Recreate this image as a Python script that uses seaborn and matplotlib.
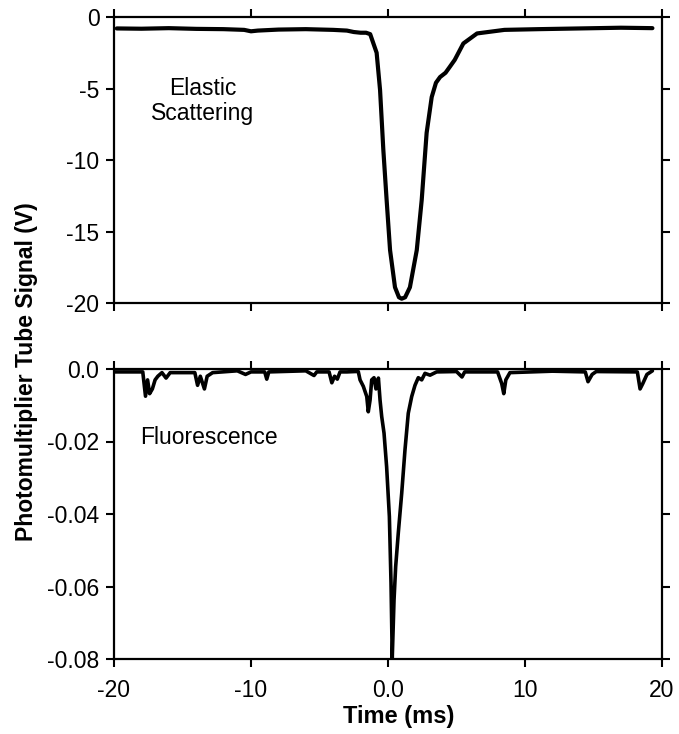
import matplotlib
matplotlib.use("Agg")
import matplotlib.pyplot as plt
import seaborn as sns
import pandas as pd

# ---------------- data ----------------
elastic_t = [-19.8, -18, -16, -14, -12, -10.5, -10, -9.5, -8, -6, -4, -3, -2.5, -2,
             -1.6, -1.3, -0.83, -0.58, -0.34, -0.1, 0.15, 0.51, 0.8, 1.0, 1.25, 1.6,
             2.1, 2.46, 2.82, 3.19, 3.5, 3.8, 4.2, 4.5, 4.87, 5.5, 6.5, 8.5, 11, 14,
             17, 19.3]
elastic_v = [-0.8, -0.82, -0.78, -0.83, -0.85, -0.9, -1.0, -0.95, -0.88, -0.85, -0.9,
             -0.95, -1.05, -1.1, -1.1, -1.2, -2.5, -5.1, -9.3, -12.8, -16.3, -18.9,
             -19.6, -19.7, -19.6, -18.9, -16.3, -12.8, -8.1, -5.6, -4.6, -4.2, -3.9,
             -3.5, -3.0, -1.85, -1.15, -0.9, -0.85, -0.8, -0.75, -0.78]

fluor_t = [-20, -18.2, -17.9, -17.7, -17.55, -17.4, -17.2, -17.0, -16.8, -16.5, -16.2,
           -15.9, -14.1, -13.9, -13.7, -13.4, -13.2, -12.8, -11, -10.4, -10.0, -9.0,
           -8.85, -8.7, -6, -5.4, -5.2, -4.3, -4.1, -3.9, -3.7, -3.5, -3.0, -2.4,
           -2.17, -2.04, -1.8, -1.55, -1.44, -1.31, -1.19, -1.02, -0.88, -0.7, -0.58,
           -0.46, -0.29, -0.1, 0.1, 0.22, 0.31, 0.44, 0.56, 0.75, 1.0, 1.24, 1.48,
           1.73, 1.97, 2.21, 2.46, 2.7, 3.07, 3.55, 5.0, 5.4, 5.6, 8.0, 8.3, 8.45,
           8.6, 8.9, 12, 14.4, 14.6, 14.9, 15.2, 18.2, 18.4, 18.6, 18.9, 19.3]
fluor_v = [-0.0008, -0.0008, -0.0008, -0.0075, -0.003, -0.0068, -0.0055, -0.003,
           -0.002, -0.001, -0.0025, -0.001, -0.001, -0.0045, -0.002, -0.0055, -0.002,
           -0.001, -0.0005, -0.0015, -0.0008, -0.0008, -0.0028, -0.0008, -0.0005,
           -0.0018, -0.0008, -0.0008, -0.0038, -0.002, -0.0028, -0.0008, -0.0008,
           -0.0007, -0.0007, -0.003, -0.0048, -0.0076, -0.0118, -0.0086, -0.003,
           -0.0024, -0.0055, -0.0025, -0.0086, -0.0131, -0.0177, -0.027, -0.0407,
           -0.059, -0.0798, -0.0637, -0.0545, -0.0453, -0.0343, -0.0223, -0.0122,
           -0.0076, -0.0045, -0.0024, -0.003, -0.0012, -0.0017, -0.0008, -0.0007,
           -0.0022, -0.0008, -0.0008, -0.004, -0.0068, -0.003, -0.001, -0.0006,
           -0.0008, -0.0035, -0.0015, -0.0007, -0.0008, -0.0055, -0.004, -0.0015,
           -0.0005]

x_ticks = [-20, -10, 0, 10, 20]
x_ticklabels = ["-20", "-10", "0.0", "10", "20"]
top_yticks = [0, -5, -10, -15, -20]
top_yticklabels = ["0", "-5", "-10", "-15", "-20"]
bot_yticks = [0.0, -0.02, -0.04, -0.06, -0.08]
bot_yticklabels = ["0.0", "-0.02", "-0.04", "-0.06", "-0.08"]

# ---------------- style ----------------
sns.set_theme(style="ticks")
plt.rcParams["font.family"] = ["Liberation Sans", "DejaVu Sans"]
plt.rcParams["axes.unicode_minus"] = False
plt.rcParams["text.color"] = "black"

FS = 16.5

fig = plt.figure(figsize=(6.79, 7.34), dpi=100)
left, width = 114 / 679, (662 - 114) / 679
ax1 = fig.add_axes([left, 1 - 303 / 734, width, (303 - 17) / 734])
ax2 = fig.add_axes([left, 1 - 659 / 734, width, (659 - 369) / 734])

df1 = pd.DataFrame({"t": elastic_t, "v": elastic_v})
df2 = pd.DataFrame({"t": fluor_t, "v": fluor_v})
sns.lineplot(data=df1, x="t", y="v", ax=ax1, color="black", linewidth=3.0, sort=False)
sns.lineplot(data=df2, x="t", y="v", ax=ax2, color="black", linewidth=2.6, sort=False)

for ax in (ax1, ax2):
    ax.set_xlim(-20, 20)
    ax.set_xticks(x_ticks)
    for s in ax.spines.values():
        s.set_visible(True)
        s.set_linewidth(1.6)
        s.set_color("black")
    ax.tick_params(axis="both", direction="out", length=5.5, width=1.5, top=True,
                   right=True, labeltop=False, labelright=False, labelsize=FS,
                   colors="black")
    ax.tick_params(axis="y", pad=5)
    ax.tick_params(axis="x", pad=9)
    ax.set_xlabel("")
    ax.set_ylabel("")

ax1.set_ylim(-20, 0)
ax1.set_yticks(top_yticks)
ax1.set_yticklabels(top_yticklabels)
ax1.tick_params(labelbottom=False)

ax2.set_ylim(-0.08, 0.0)
ax2.set_yticks(bot_yticks)
ax2.set_yticklabels(bot_yticklabels)
ax2.set_xticklabels(x_ticklabels)

ax1.text(203 / 679, 1 - 101 / 734, "Elastic\nScattering", transform=fig.transFigure,
         ha="center", va="center", fontsize=FS, linespacing=1.1, color="black")
ax2.text(140 / 679, 1 - 437 / 734, "Fluorescence", transform=fig.transFigure,
         ha="left", va="center", fontsize=FS, color="black")

fig.text(27 / 679, 1 - 372 / 734, "Photomultiplier Tube Signal (V)", rotation=90,
         ha="center", va="center", fontsize=16.5, fontweight="bold", color="black")
fig.text(399 / 679, 1 - 717 / 734, "Time (ms)", ha="center", va="center",
         fontsize=17, fontweight="bold", color="black")

fig.savefig("out.png", dpi=100)
